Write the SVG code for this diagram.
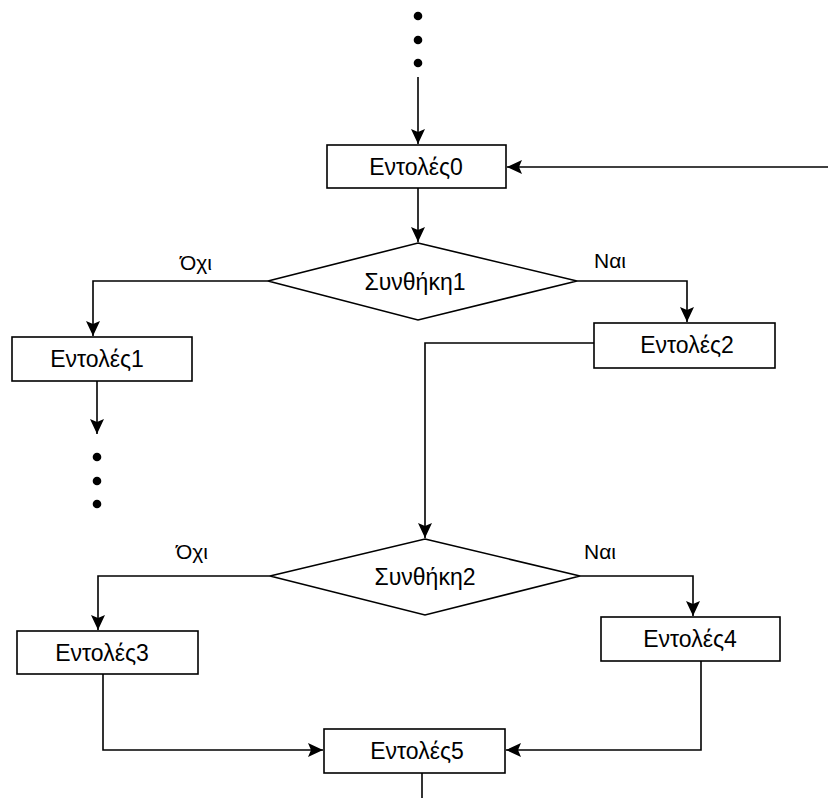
<svg xmlns="http://www.w3.org/2000/svg" width="831" height="798" viewBox="0 0 831 798">
<style>
.box{fill:#fff;stroke:#000;stroke-width:1.6}
.dia{fill:#fff;stroke:#000;stroke-width:1.6}
.t{font-family:"Liberation Sans",Arial,sans-serif;font-size:23px;fill:#000;text-anchor:middle;dominant-baseline:central}
.lbl{font-family:"Liberation Sans",Arial,sans-serif;font-size:21px;fill:#000;text-anchor:middle;dominant-baseline:central}
.c{fill:none;stroke:#000;stroke-width:1.6}
.dot{fill:#000}
</style>
<defs>
<marker id="ah" markerUnits="userSpaceOnUse" markerWidth="16" markerHeight="14" refX="15" refY="7" orient="auto">
<path d="M0,0 L15,7 L0,14 L3,7 z" fill="#000"/>
</marker>
</defs>
<rect width="831" height="798" fill="#fff"/>
<g id="connectors">
<path class="c" d="M418,77 V144" marker-end="url(#ah)"/>
<path class="c" d="M828,167 H507" marker-end="url(#ah)"/>
<path class="c" d="M418,188 V242" marker-end="url(#ah)"/>
<path class="c" d="M268,281 H93 V336" marker-end="url(#ah)"/>
<path class="c" d="M577,281 H687 V322" marker-end="url(#ah)"/>
<path class="c" d="M97,381 V434" marker-end="url(#ah)"/>
<path class="c" d="M594,343 H425 V538" marker-end="url(#ah)"/>
<path class="c" d="M270,576 H98 V630" marker-end="url(#ah)"/>
<path class="c" d="M580,576 H693 V616" marker-end="url(#ah)"/>
<path class="c" d="M103,674 V750 H323" marker-end="url(#ah)"/>
<path class="c" d="M701,661 V750 H506" marker-end="url(#ah)"/>
<path class="c" d="M422,773 V798"/>
<circle class="dot" cx="418" cy="16" r="4.3"/>
<circle class="dot" cx="418" cy="40" r="4.3"/>
<circle class="dot" cx="418" cy="63" r="4.3"/>
<circle class="dot" cx="97" cy="457" r="4.3"/>
<circle class="dot" cx="97" cy="481" r="4.3"/>
<circle class="dot" cx="97" cy="504" r="4.3"/>
<text class="lbl" x="196" y="262">Όχι</text>
<text class="lbl" x="610" y="260">Ναι</text>
<text class="lbl" x="192" y="551">Όχι</text>
<text class="lbl" x="600" y="551">Ναι</text>
</g>
<g id="n0"><rect class="box" x="327" y="145" width="179" height="43"/><text class="t" x="416" y="167">Εντολές0</text></g>
<g id="d1"><polygon class="dia" points="418,243 577,281 418,320 268,281"/><text class="t" x="415" y="282">Συνθήκη1</text></g>
<g id="n1"><rect class="box" x="12" y="337" width="180" height="44"/><text class="t" x="97" y="359">Εντολές1</text></g>
<g id="n2"><rect class="box" x="594" y="323" width="181" height="45"/><text class="t" x="687" y="345">Εντολές2</text></g>
<g id="d2"><polygon class="dia" points="425,539 580,576 425,615 270,576"/><text class="t" x="425" y="577">Συνθήκη2</text></g>
<g id="n3"><rect class="box" x="17" y="631" width="181" height="43"/><text class="t" x="102" y="653">Εντολές3</text></g>
<g id="n4"><rect class="box" x="601" y="617" width="179" height="44"/><text class="t" x="690" y="639">Εντολές4</text></g>
<g id="n5"><rect class="box" x="324" y="729" width="181" height="44"/><text class="t" x="417" y="751">Εντολές5</text></g>
</svg>
